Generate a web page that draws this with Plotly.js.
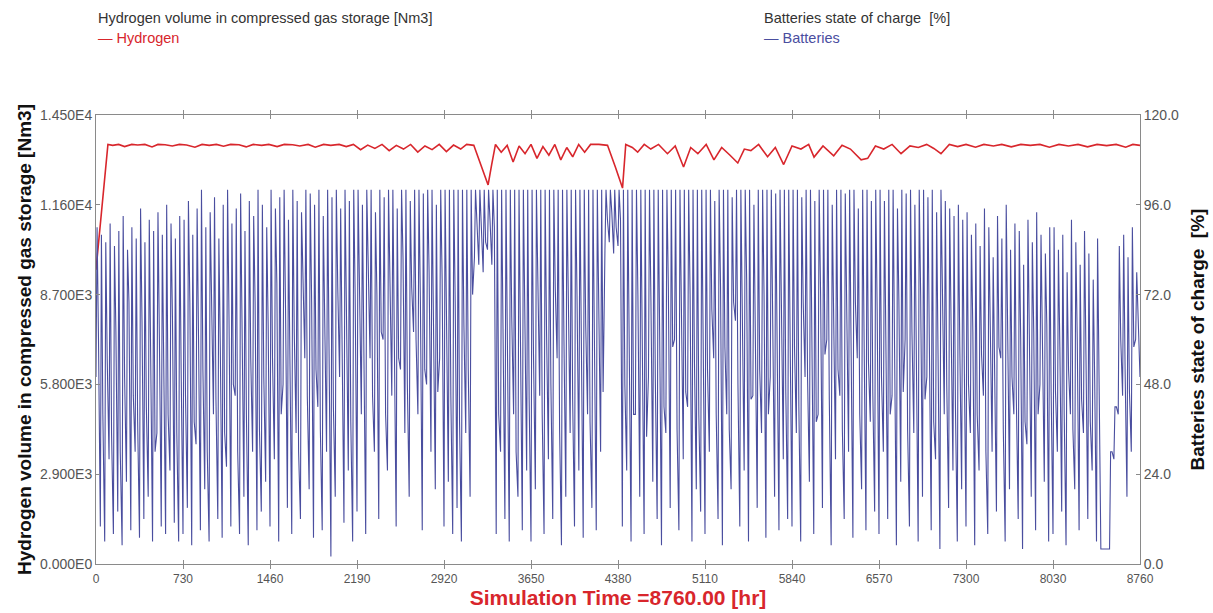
<!DOCTYPE html>
<html><head><meta charset="utf-8">
<script src="https://cdn.plot.ly/plotly-3.0.1.min.js"></script>
<style>html,body{margin:0;padding:0;background:#fff}#chart{width:1213px;height:613px}</style>
</head><body><div id="chart"></div>
<script>
// ---- Hydrogen volume in compressed gas storage [Nm3] ----
const hydrogenHours = [0,30,60,100,140,190,240,300,350,410,470,520,580,640,700,760,830,890,950,1010,1070,1130,1200,1260,1320,1390,1450,1520,1580,1650,1710,1780,1840,1910,1970,2040,2100,2160,2220,2280,2340,2400,2460,2520,2580,2640,2700,2760,2820,2880,2940,3000,3060,3110,3170,3230,3290,3320,3352,3400,3450,3500,3550,3600,3650,3700,3750,3800,3850,3900,3950,4000,4050,4100,4150,4220,4292,4360,4418,4445,4500,4545,4600,4655,4720,4795,4860,4930,4990,5050,5120,5185,5250,5320,5385,5440,5495,5560,5635,5700,5770,5840,5915,5980,6025,6100,6190,6260,6330,6420,6475,6540,6610,6680,6755,6830,6900,6970,7030,7090,7160,7230,7300,7380,7450,7530,7600,7680,7760,7840,7920,8000,8080,8160,8240,8320,8400,8480,8560,8640,8700,8760];
const hydrogenVolume = [9500,10700,11850,13550,13520,13550,13480,13550,13530,13550,13470,13550,13540,13500,13550,13530,13460,13550,13520,13550,13490,13550,13540,13470,13550,13520,13550,13480,13550,13540,13500,13550,13460,13550,13520,13550,13480,13550,13380,13530,13420,13550,13350,13520,13400,13550,13300,13500,13380,13550,13320,13530,13400,13550,13520,12900,12240,12900,13550,13300,13520,12980,13500,13250,13550,13100,13480,13200,13550,13050,13450,13150,13550,13300,13550,13550,13520,12800,12140,13550,13450,13300,13550,13400,13550,13250,13500,12820,13450,13250,13550,13050,13450,13200,12950,13400,13350,13550,13150,13450,12900,13500,13400,13550,13140,13500,13180,13520,13400,13050,13100,13500,13400,13550,13250,13500,13450,13550,13420,13250,13550,13480,13550,13460,13550,13500,13550,13470,13550,13520,13550,13460,13550,13500,13550,13470,13550,13510,13550,13460,13550,13520];

// ---- Batteries state of charge [%]: per charge cycle a low, a high and an intermediate reading ----
const batteryPeaks = [
  90,88,86,91,85,89,93,84,90,87,95,86,92,89,94,88,96,91,87,93,
  92,97,88,95,100,90,94,98,87,96,100,91,95,99,89,97,93,100,96,90,
  100,95,98,100,92,100,97,94,100,99,96,100,93,100,98,100,95,100,97,100,
  100,96,100,100,94,100,98,100,100,95,100,100,97,100,100,99,100,100,96,100,
  100,100,100,100,100,100,100,100,100,100,100,100,100,100,100,100,100,100,100,100,
  100,100,100,100,100,100,100,100,100,100,100,100,100,100,100,100,100,100,100,100,
  100,100,100,100,100,100,100,100,100,100,100,100,100,100,100,100,100,100,100,100,
  100,100,97,100,100,100,98,100,100,100,100,96,100,100,100,100,99,100,100,100,
  100,100,98,100,100,97,100,100,100,96,100,100,99,100,100,95,100,100,97,100,
  100,97,100,100,95,100,99,100,96,100,100,98,100,94,100,97,95,93,96,92,
  94,88,91,85,95,90,82,93,87,96,84,91,89,80,92,86,94,88,83,90,
  90,84,88,78,92,86,80,89,83,76,87,4,4,30,42,85,88,82,90,78
];
const batteryMids = [
  60,40,55,35,62,30,50,70,45,38,65,42,55,30,60,48,40,66,35,52,
  45,70,38,60,52,30,72,44,58,35,66,48,30,62,40,55,70,36,50,64,
  55,75,40,68,50,62,30,78,45,70,52,36,66,58,42,74,48,64,38,72,
  70,58,80,45,72,62,40,78,66,55,82,48,74,60,70,52,78,64,46,76,
  60,45,70,38,64,52,72,90,88,86,92,90,40,62,48,66,30,58,70,44,
  56,70,40,62,48,74,36,60,68,44,72,52,64,38,58,70,46,92,94,90,
  92,48,66,40,72,56,34,70,50,62,42,74,58,36,68,46,72,54,40,64,
  52,68,40,74,58,36,70,48,62,76,44,66,52,72,40,64,56,70,46,60,
  58,42,70,50,64,38,72,56,44,68,52,36,66,48,70,40,62,54,46,68,
  50,66,40,58,70,46,36,62,52,72,44,60,38,56,68,48,64,42,58,52,
  48,62,40,56,30,64,46,58,36,66,50,44,60,38,54,62,40,52,64,46,
  46,58,40,52,36,60,44,56,38,50,48,4,4,30,42,60,52,46,58,64
];
const batteryTroughs = [
  50,10,6,28,8,14,5,22,9,30,7,12,18,6,35,10,8,25,11,6,
  8,15,5,32,9,20,6,40,12,7,26,10,45,8,18,5,30,9,14,22,
  10,28,6,48,15,8,35,12,55,20,7,42,9,30,2,18,50,11,25,6,
  14,40,8,55,30,12,60,25,45,10,52,35,18,62,40,9,48,30,20,55,
  10,22,8,15,6,35,18,82,80,78,84,80,8,30,12,6,40,18,9,25,
  6,20,45,8,28,12,55,5,18,35,10,25,7,40,15,9,30,84,86,83,
  85,10,25,6,40,18,8,50,22,12,5,35,15,60,9,28,42,6,20,14,
  8,30,55,12,5,40,20,65,10,25,6,45,15,35,7,50,18,9,28,12,
  10,35,6,50,22,8,40,15,60,5,28,45,12,30,7,55,20,9,38,14,
  8,30,12,45,5,22,60,10,35,6,18,50,9,28,4,40,15,25,6,20,
  10,35,5,25,45,8,30,14,55,6,20,40,12,4,32,18,9,48,22,6,
  8,30,14,5,40,20,9,35,12,25,6,4,4,4,28,40,45,18,30,60
];
const batteryEnd = 50;
const simulationHours = 8760;

// ---- tick labels ----
const xTicks = [0,730,1460,2190,2920,3650,4380,5110,5840,6570,7300,8030,8760];
const yLeftVals = [0,2900,5800,8700,11600,14500];
const yLeftText = ["0.000E0","2.900E3","5.800E3","8.700E3","1.160E4","1.450E4"];
const yRightVals = [0,24,48,72,96,120];
const yRightText = ["0.0","24.0","48.0","72.0","96.0","120.0"];

// battery time base: low at cycle start, high after charging, intermediate later in the cycle
const nCycles = batteryPeaks.length;
const cycleLen = simulationHours / nCycles;
const bx = [], by = [];
for (let i = 0; i < nCycles; i++) {
  bx.push(i * cycleLen);      by.push(batteryTroughs[i]);
  bx.push(i * cycleLen + 9);  by.push(batteryPeaks[i]);
  bx.push(i * cycleLen + 21); by.push(batteryMids[i]);
}
bx.push(simulationHours); by.push(batteryEnd);

const FONT = "Liberation Sans, Arial, sans-serif";
const RED = "#d8262c", BLUE = "#4a4e9f";

const traces = [
  {x: bx, y: by, yaxis: "y2", type: "scatter", mode: "lines", name: "Batteries",
   line: {color: BLUE, width: 1.1}, showlegend: false, hoverinfo: "skip"},
  {x: hydrogenHours, y: hydrogenVolume, type: "scatter", mode: "lines", name: "Hydrogen",
   line: {color: RED, width: 1.6}, showlegend: false, hoverinfo: "skip"}
];

const layout = {
  width: 1213, height: 613,
  margin: {l: 96, r: 73, t: 115, b: 49},
  paper_bgcolor: "#fff", plot_bgcolor: "#fff",
  font: {family: FONT, color: "#555", size: 12},
  showlegend: false,
  xaxis: {
    range: [0, simulationHours], tickmode: "array", tickvals: xTicks,
    showgrid: false, zeroline: false, showline: true, mirror: "allticks",
    linecolor: "#8a8a8a", linewidth: 1, ticks: "inside", ticklen: 4, tickcolor: "#8a8a8a",
    tickfont: {family: FONT, size: 12, color: "#555"}, automargin: false, ticklabelstandoff: 4,
    title: {text: "Simulation Time =8760.00 [hr]", standoff: 3,
            font: {family: FONT, size: 21, color: RED, weight: "bold"}}
  },
  yaxis: {
    range: [0, 14500], tickmode: "array", tickvals: yLeftVals, ticktext: yLeftText,
    showgrid: false, zeroline: false, showline: true, mirror: true,
    linecolor: "#8a8a8a", linewidth: 1, ticks: "inside", ticklen: 4, tickcolor: "#8a8a8a",
    tickfont: {family: FONT, size: 14, color: "#555"}, automargin: false,
    title: {text: "Hydrogen volume in compressed gas storage [Nm3]", standoff: 3,
            font: {family: FONT, size: 19, color: "#111", weight: "bold"}}
  },
  yaxis2: {
    range: [0, 120], overlaying: "y", side: "right",
    tickmode: "array", tickvals: yRightVals, ticktext: yRightText,
    showgrid: false, zeroline: false, showline: true,
    linecolor: "#8a8a8a", linewidth: 1, ticks: "inside", ticklen: 4, tickcolor: "#8a8a8a",
    tickfont: {family: FONT, size: 14, color: "#555"}, automargin: false,
    title: {text: "Batteries state of charge  [%]", standoff: 12,
            font: {family: FONT, size: 19, color: "#111", weight: "bold"}}
  },
  annotations: [
    {xref: "paper", yref: "paper", x: 0, y: 1.216, xanchor: "left", yanchor: "middle", showarrow: false,
     text: "Hydrogen volume in compressed gas storage [Nm3]", font: {family: FONT, size: 14.5, color: "#333"}},
    {xref: "paper", yref: "paper", x: 0, y: 1.172, xanchor: "left", yanchor: "middle", showarrow: false,
     text: "— Hydrogen", font: {family: FONT, size: 14.5, color: RED}},
    {xref: "paper", yref: "paper", x: 0.638, y: 1.216, xanchor: "left", yanchor: "middle", showarrow: false,
     text: "Batteries state of charge  [%]", font: {family: FONT, size: 14.5, color: "#333"}},
    {xref: "paper", yref: "paper", x: 0.638, y: 1.172, xanchor: "left", yanchor: "middle", showarrow: false,
     text: "— Batteries", font: {family: FONT, size: 14.5, color: BLUE}}
  ]
};

Plotly.newPlot("chart", traces, layout, {staticPlot: true, displayModeBar: false});
</script></body></html>
